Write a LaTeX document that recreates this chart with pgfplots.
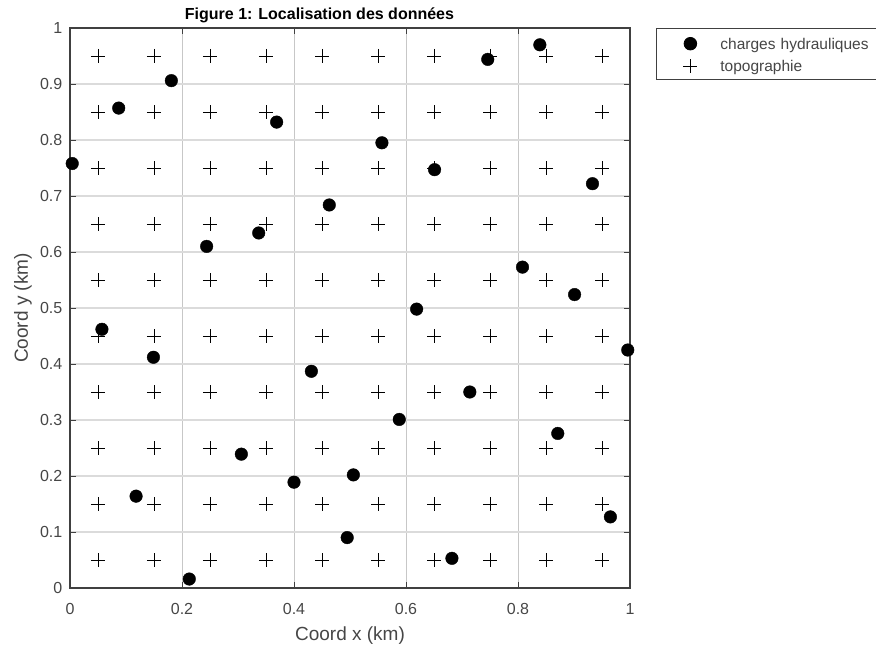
\documentclass[border=0pt]{standalone}
\usepackage{pgfplots}
\pgfplotsset{compat=1.18}
\usepackage{fontspec}
\setmainfont{Liberation Sans}
\definecolor{axcol}{RGB}{64,64,64}
\definecolor{txtcol}{RGB}{70,70,70}
\pgfplotsset{myleg/.style={legend image code/.code={\path[draw=none,fill=none] (-34pt,-10.1pt) rectangle (30pt,12.3pt); \draw[##1] plot coordinates {(0pt,0pt)};}}}
\begin{document}
\begin{tikzpicture}
\begin{axis}[
  at={(0pt,0pt)}, anchor=south west,
  scale only axis, width=560pt, height=560pt,
  xmin=0, xmax=1, ymin=0, ymax=1,
  xtick={0,0.2,0.4,0.6,0.8,1},
  ytick={0,0.1,0.2,0.3,0.4,0.5,0.6,0.7,0.8,0.9,1},
  xtick pos=both, ytick pos=both,
  xticklabel pos=lower, yticklabel pos=left,
  tick align=inside, major tick length=5.6pt,
  every tick/.style={axcol, line width=0.8pt},
  axis line style={axcol, line width=1.1pt},
  grid=major,
  x grid style={black!22, line width=0.9pt},
  y grid style={black!14, line width=1.6pt},
  /pgf/number format/assume math mode=true,
  ticklabel style={font=\fontsize{16}{16}\selectfont, text=txtcol},
  xticklabel style={anchor=base, yshift=-26.5pt},
  yticklabel style={anchor=east, inner sep=0pt, xshift=-7.5pt},
  every axis x label/.style={at={(axis description cs:0.5,-0.0946)}, anchor=base, font=\fontsize{19}{19}\selectfont, text=txtcol},
  every axis y label/.style={at={(axis description cs:-0.075,0.5)}, rotate=90, anchor=base, font=\fontsize{19}{19}\selectfont, text=txtcol},
  xlabel={Coord x (km)},
  ylabel={Coord y (km)},
  every axis title/.style={at={(axis description cs:0.4455,1.0152)}, anchor=base, inner sep=0pt, font=\bfseries\fontsize{16}{16}\selectfont},
  title={Figure 1: Localisation des données},
  legend style={at={(1.0464,1)}, anchor=north west, draw=axcol, line width=0.8pt,
    inner xsep=0pt, inner ysep=3pt, row sep=0pt, font=\fontsize{15.5}{15.5}\selectfont, text=txtcol,
    nodes={inner sep=0pt, text depth=0pt},
    /tikz/every even column/.append style={text width=170pt}},
  legend cell align=left,
  legend columns=1,
]
\addplot[only marks, mark=*, mark size=6.3pt, mark options={fill=black, draw=none}, myleg]
coordinates {
(0.004,0.758) (0.087,0.857) (0.181,0.906) (0.369,0.832) (0.557,0.795)
(0.651,0.747) (0.746,0.944) (0.839,0.970) (0.933,0.722) (0.463,0.684)
(0.337,0.634) (0.244,0.610) (0.808,0.573) (0.901,0.524) (0.619,0.498)
(0.057,0.462) (0.149,0.412) (0.996,0.425) (0.431,0.387) (0.714,0.350)
(0.588,0.301) (0.871,0.276) (0.306,0.239) (0.400,0.189) (0.506,0.202)
(0.118,0.164) (0.965,0.127) (0.495,0.090) (0.682,0.053) (0.213,0.016)
};
\addlegendentry{charges hydrauliques}
\addplot[only marks, mark=+, mark size=7pt, mark options={black, line width=0.9pt}, myleg]
coordinates {
(0.05,0.05) (0.15,0.05) (0.25,0.05) (0.35,0.05) (0.45,0.05) (0.55,0.05) (0.65,0.05) (0.75,0.05) (0.85,0.05) (0.95,0.05)
(0.05,0.15) (0.15,0.15) (0.25,0.15) (0.35,0.15) (0.45,0.15) (0.55,0.15) (0.65,0.15) (0.75,0.15) (0.85,0.15) (0.95,0.15)
(0.05,0.25) (0.15,0.25) (0.25,0.25) (0.35,0.25) (0.45,0.25) (0.55,0.25) (0.65,0.25) (0.75,0.25) (0.85,0.25) (0.95,0.25)
(0.05,0.35) (0.15,0.35) (0.25,0.35) (0.35,0.35) (0.45,0.35) (0.55,0.35) (0.65,0.35) (0.75,0.35) (0.85,0.35) (0.95,0.35)
(0.05,0.45) (0.15,0.45) (0.25,0.45) (0.35,0.45) (0.45,0.45) (0.55,0.45) (0.65,0.45) (0.75,0.45) (0.85,0.45) (0.95,0.45)
(0.05,0.55) (0.15,0.55) (0.25,0.55) (0.35,0.55) (0.45,0.55) (0.55,0.55) (0.65,0.55) (0.75,0.55) (0.85,0.55) (0.95,0.55)
(0.05,0.65) (0.15,0.65) (0.25,0.65) (0.35,0.65) (0.45,0.65) (0.55,0.65) (0.65,0.65) (0.75,0.65) (0.85,0.65) (0.95,0.65)
(0.05,0.75) (0.15,0.75) (0.25,0.75) (0.35,0.75) (0.45,0.75) (0.55,0.75) (0.65,0.75) (0.75,0.75) (0.85,0.75) (0.95,0.75)
(0.05,0.85) (0.15,0.85) (0.25,0.85) (0.35,0.85) (0.45,0.85) (0.55,0.85) (0.65,0.85) (0.75,0.85) (0.85,0.85) (0.95,0.85)
(0.05,0.95) (0.15,0.95) (0.25,0.95) (0.35,0.95) (0.45,0.95) (0.55,0.95) (0.65,0.95) (0.75,0.95) (0.85,0.95) (0.95,0.95)
};
\addlegendentry{topographie}
\end{axis}
\pgfresetboundingbox
\path[use as bounding box] (-70pt,-61pt) rectangle (806pt,588pt);
\end{tikzpicture}
\end{document}
